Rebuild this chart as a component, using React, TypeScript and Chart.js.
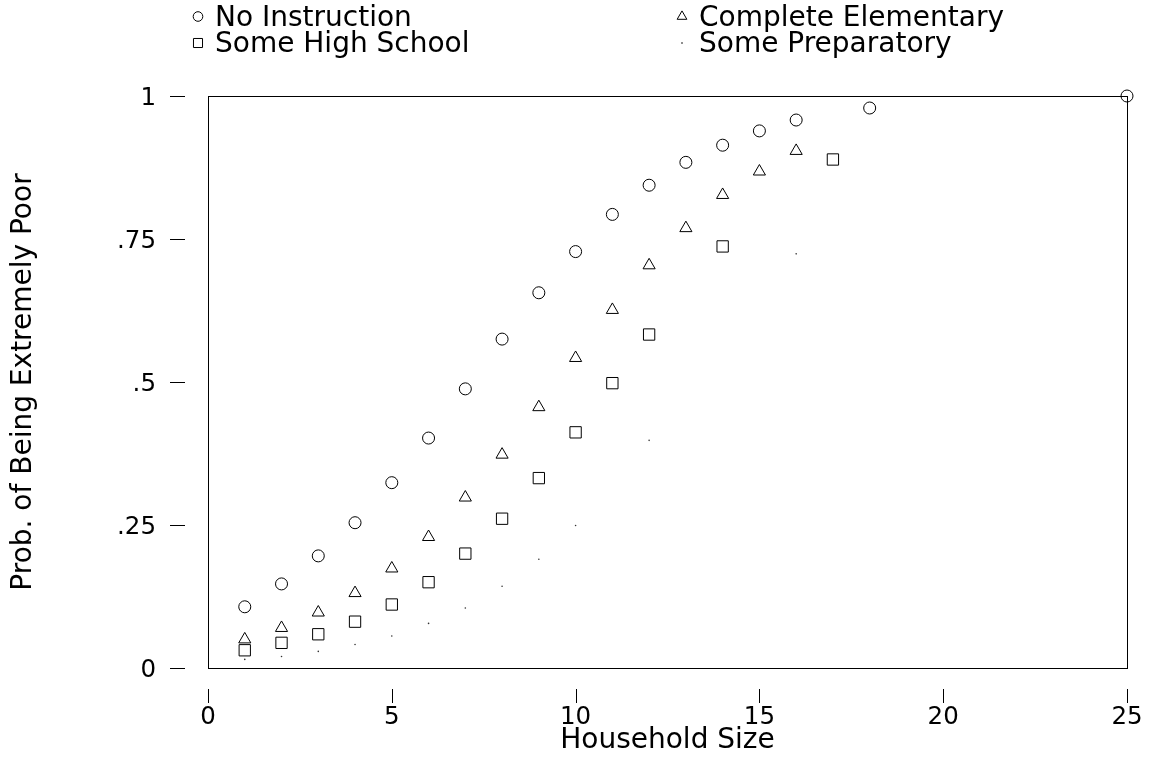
import React, { useEffect, useRef } from "react";
import { Chart, registerables } from "chart.js";

Chart.register(...registerables);

const seriesLabels = ["No Instruction", "Complete Elementary", "Some High School", "Some Preparatory"];

const noInstructionX = [1, 2, 3, 4, 5, 6, 7, 8, 9, 10, 11, 12, 13, 14, 15, 16, 18, 25];
const noInstructionY = [0.107, 0.147, 0.196, 0.254, 0.324, 0.402, 0.488, 0.575, 0.656, 0.728, 0.793, 0.844, 0.884, 0.914, 0.939, 0.958, 0.979, 1.0];

const completeElementaryX = [1, 2, 3, 4, 5, 6, 7, 8, 9, 10, 11, 12, 13, 14, 15, 16];
const completeElementaryY = [0.05, 0.07, 0.097, 0.131, 0.174, 0.229, 0.298, 0.373, 0.456, 0.542, 0.626, 0.704, 0.769, 0.827, 0.868, 0.904];

const someHighSchoolX = [1, 2, 3, 4, 5, 6, 7, 8, 9, 10, 11, 12, 14, 17];
const someHighSchoolY = [0.031, 0.044, 0.059, 0.081, 0.111, 0.15, 0.2, 0.261, 0.332, 0.412, 0.498, 0.583, 0.737, 0.889];

const somePreparatoryX = [1, 2, 3, 4, 5, 6, 7, 8, 9, 10, 12, 16];
const somePreparatoryY = [0.015, 0.02, 0.029, 0.041, 0.056, 0.078, 0.105, 0.143, 0.19, 0.249, 0.398, 0.724];

const xTickValues = [0, 5, 10, 15, 20, 25];
const xTickLabels = ["0", "5", "10", "15", "20", "25"];
const yTickValues = [0, 0.25, 0.5, 0.75, 1];
const yTickLabels = ["0", ".25", ".5", ".75", "1"];

const xTitle = "Household Size";
const yTitle = "Prob. of Being Extremely Poor";

const FONT = "'DejaVu Sans', 'Liberation Sans', Arial, sans-serif";
const INK = "#000";

const zip = (xs: number[], ys: number[]) => xs.map((x, i) => ({ x, y: ys[i] }));

function drawSymbol(ctx: CanvasRenderingContext2D, style: string, r: number, x: number, y: number) {
  ctx.beginPath();
  if (style === "circle") {
    ctx.arc(x, y, r, 0, Math.PI * 2);
    ctx.stroke();
  } else if (style === "triangle") {
    const a = (Math.PI * 2) / 3;
    ctx.moveTo(x, y - r);
    ctx.lineTo(x + Math.sin(a) * r, y - Math.cos(a) * r);
    ctx.lineTo(x + Math.sin(2 * a) * r, y - Math.cos(2 * a) * r);
    ctx.closePath();
    ctx.stroke();
  } else if (style === "rect") {
    const s = Math.SQRT1_2 * r;
    ctx.rect(x - s, y - s, 2 * s, 2 * s);
    ctx.stroke();
  } else {
    ctx.arc(x, y, r, 0, Math.PI * 2);
    ctx.fill();
  }
}

const framePlugin = {
  id: "frame",
  afterDraw(chart: any) {
    const { ctx, chartArea } = chart;
    const xs = chart.scales.x;
    const ys = chart.scales.y;
    ctx.save();
    ctx.strokeStyle = INK;
    ctx.fillStyle = INK;
    ctx.lineWidth = 1;
    // box
    ctx.strokeRect(
      Math.round(chartArea.left) + 0.5,
      Math.round(chartArea.top) + 0.5,
      Math.round(chartArea.right - chartArea.left),
      Math.round(chartArea.bottom - chartArea.top)
    );
    // y tick marks (detached from the box)
    ys.ticks.forEach((t: any) => {
      const py = Math.round(ys.getPixelForValue(t.value)) + 0.5;
      ctx.beginPath();
      ctx.moveTo(chartArea.left - 38, py);
      ctx.lineTo(chartArea.left - 23, py);
      ctx.stroke();
    });
    // x tick marks
    xs.ticks.forEach((t: any) => {
      const px = Math.round(xs.getPixelForValue(t.value)) + 0.5;
      ctx.beginPath();
      ctx.moveTo(px, chartArea.bottom + 21);
      ctx.lineTo(px, chartArea.bottom + 35);
      ctx.stroke();
    });
    // legend (two columns)
    const symCols = [chartArea.left - 10, chartArea.left + 474];
    const rows = [18.5, 45];
    ctx.font = `28px ${FONT}`;
    ctx.textBaseline = "middle";
    ctx.textAlign = "left";
    chart.data.datasets.forEach((ds: any, i: number) => {
      const cx = symCols[i % 2];
      const cy = rows[Math.floor(i / 2)];
      const isDot = ds.pointRadius < 2;
      const r = isDot ? 0.8 : ds.pointRadius * 0.8;
      drawSymbol(ctx, isDot ? "dot" : ds.pointStyle, r, cx, cy - 2);
      ctx.fillText(ds.label, cx + 17, cy);
    });
    ctx.restore();
  },
};

export default function App() {
  const ref = useRef<HTMLCanvasElement | null>(null);

  useEffect(() => {
    if (!ref.current) return;
    const base = {
      borderColor: INK,
      backgroundColor: "rgba(0,0,0,0)",
      borderWidth: 1,
      clip: false as any,
      showLine: false,
    };
    const chart = new Chart(ref.current, {
      type: "scatter",
      data: {
        datasets: [
          { ...base, label: seriesLabels[0], data: zip(noInstructionX, noInstructionY), pointStyle: "circle", pointRadius: 6 },
          { ...base, label: seriesLabels[1], data: zip(completeElementaryX, completeElementaryY), pointStyle: "triangle", pointRadius: 7 },
          { ...base, label: seriesLabels[2], data: zip(someHighSchoolX, someHighSchoolY), pointStyle: "rect", pointRadius: 8 },
          {
            ...base,
            label: seriesLabels[3],
            data: zip(somePreparatoryX, somePreparatoryY),
            pointStyle: "circle",
            pointRadius: 0.8,
            borderWidth: 0,
            backgroundColor: "#333",
          } as any,
        ],
      },
      options: {
        animation: false,
        responsive: true,
        maintainAspectRatio: false,
        events: [],
        layout: { padding: { top: 96, right: 27, bottom: 0, left: 0 } },
        plugins: {
          legend: { display: false },
          tooltip: { enabled: false },
        },
        scales: {
          x: {
            type: "linear",
            min: 0,
            max: 25,
            afterFit: (s: any) => {
              s.height = 90;
              s.paddingLeft = 0;
              s.paddingRight = 0;
            },
            afterBuildTicks: (s: any) => { s.ticks = xTickValues.map((v) => ({ value: v })); },
            grid: { display: false, drawTicks: false },
            border: { display: false },
            ticks: {
              padding: 35,
              color: INK,
              font: { family: FONT, size: 24.5 },
              maxRotation: 0,
              callback: (v: any) => {
                const i = xTickValues.indexOf(Number(v));
                return i >= 0 ? xTickLabels[i] : "";
              },
            },
            title: {
              display: true,
              text: xTitle,
              color: INK,
              font: { family: FONT, size: 28 },
              padding: { top: 0, bottom: 0 },
            },
          },
          y: {
            type: "linear",
            min: 0,
            max: 1,
            afterFit: (s: any) => {
              s.width = 208;
              s.paddingTop = 0;
              s.paddingBottom = 0;
            },
            afterBuildTicks: (s: any) => { s.ticks = yTickValues.map((v) => ({ value: v })); },
            grid: { display: false, drawTicks: false },
            border: { display: false },
            ticks: {
              padding: 52,
              labelOffset: 3,
              color: INK,
              font: { family: FONT, size: 24.5 },
              callback: (v: any) => {
                const i = yTickValues.indexOf(Number(v));
                return i >= 0 ? yTickLabels[i] : "";
              },
            },
            title: {
              display: true,
              text: yTitle,
              color: INK,
              font: { family: FONT, size: 28 },
              padding: { top: 7, bottom: 0 },
            },
          },
        },
      },
      plugins: [framePlugin],
    });
    return () => chart.destroy();
  }, []);

  return (
    <div style={{ position: "fixed", left: 0, top: 0, width: 1154, height: 758, background: "#fff" }}>
      <canvas ref={ref} />
    </div>
  );
}
